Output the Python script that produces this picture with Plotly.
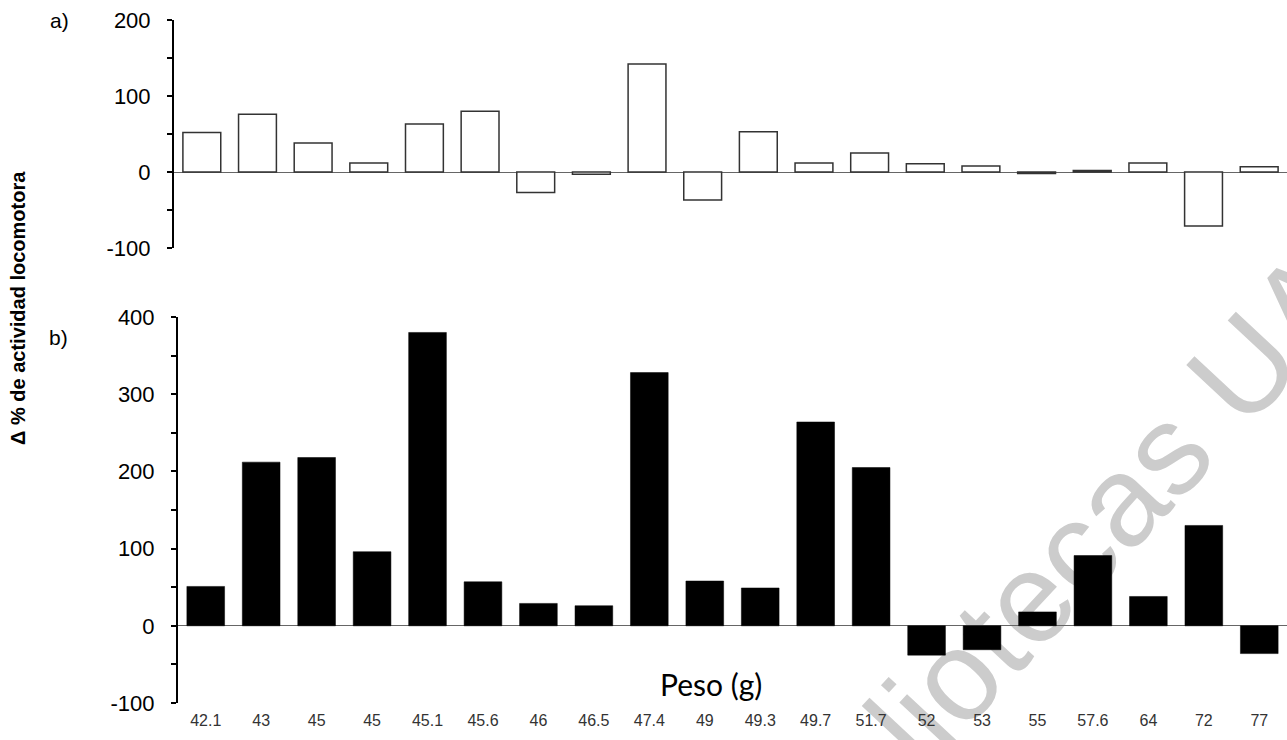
import plotly.graph_objects as go

# Data
peso_labels = ["42.1", "43", "45", "45", "45.1", "45.6", "46", "46.5", "47.4", "49",
               "49.3", "49.7", "51.7", "52", "53", "55", "57.6", "64", "72", "77"]
delta_a = [52, 76, 38, 12, 63, 80, -27, -3, 142, -37,
           53, 12, 25, 11, 8, -2, 2, 12, -71, 7]
delta_b = [51, 212, 218, 96, 380, 57, 29, 26, 328, 58,
           49, 264, 205, -38, -31, 18, 91, 38, 130, -36]
ticks_a = [-100, 0, 100, 200]
ticks_b = [-100, 0, 100, 200, 300, 400]

pos = list(range(len(peso_labels)))

W, H = 1287, 740
ML, MR, MT, MB = 174, 0, 20, 37
PW, PH = W - ML - MR, H - MT - MB


def px_x(x):
    return (x - ML) / PW


def px_y(y):
    return (H - MB - y) / PH


fig = go.Figure()
fig.add_trace(go.Bar(x=pos, y=delta_a, xaxis="x", yaxis="y",
                     marker=dict(color="white", line=dict(color="#333333", width=1.5)),
                     showlegend=False, hoverinfo="skip"))
fig.add_trace(go.Bar(x=pos, y=delta_b, xaxis="x2", yaxis="y2",
                     marker=dict(color="black", line=dict(color="black", width=0.5)),
                     showlegend=False, hoverinfo="skip"))

yfont = dict(family="Arial, Liberation Sans, sans-serif", size=22, color="black")
common_y = dict(
    showgrid=False, showline=True, linecolor="black", linewidth=2,
    ticks="outside", ticklen=5, tickwidth=2, tickcolor="black",
    tickmode="array", tickfont=yfont, ticklabelstandoff=12,
    minor=dict(dtick=50, ticks="outside", ticklen=5, tickwidth=2, tickcolor="black"),
    zeroline=True, zerolinecolor="#666666", zerolinewidth=1,
)

fig.update_layout(
    width=W, height=H,
    margin=dict(l=ML, r=MR, t=MT, b=MB),
    paper_bgcolor="white", plot_bgcolor="rgba(0,0,0,0)",
    bargap=0.32,
    xaxis=dict(domain=[0, 1], anchor="y", range=[-0.5, 19.5], showgrid=False,
               showline=False, zeroline=False, showticklabels=False, ticks=""),
    yaxis=dict(domain=[px_y(248), 1], anchor="x", range=[-100, 200],
               tickvals=ticks_a, ticktext=[str(v) for v in ticks_a], **common_y),
    xaxis2=dict(domain=[px_x(178), 1], anchor="y2", range=[-0.5, 19.5], showgrid=False,
                showline=False, zeroline=False, ticks="",
                tickmode="array", tickvals=pos, ticktext=peso_labels,
                tickfont=dict(family="Arial, Liberation Sans, sans-serif", size=16, color="#333333"),
                ticklabelstandoff=6),
    yaxis2=dict(domain=[0, px_y(317)], anchor="x2", range=[-100, 400],
                tickvals=ticks_b, ticktext=[str(v) for v in ticks_b], **common_y),
)

annots = [
    dict(text="a)", x=px_x(59), y=px_y(20), font=dict(family="Arial, Liberation Sans", size=21, color="black")),
    dict(text="b)", x=px_x(58), y=px_y(337), font=dict(family="Arial, Liberation Sans", size=21, color="black")),
    dict(text="<b>\u0394 % de actividad locomotora</b>", x=px_x(18), y=px_y(308), textangle=-90,
         font=dict(family="Arial, Liberation Sans", size=20, color="black")),
    dict(text="Peso (g)", x=px_x(711), y=px_y(684),
         font=dict(family="Lato, Open Sans, sans-serif", size=30, color="black")),
]
for a in annots:
    fig.add_annotation(xref="paper", yref="paper", showarrow=False,
                       xanchor="center", yanchor="middle", **a)

# Watermark text behind bars
cx, cy = 1040, 568
fig.add_shape(type="line", xref="paper", yref="paper", layer="below",
              x0=px_x(cx - 34), y0=px_y(cy + 37), x1=px_x(cx + 34), y1=px_y(cy - 37),
              line=dict(width=0, color="rgba(0,0,0,0)"),
              label=dict(text="Bibliotecas UA", textangle=-47, textposition="middle",
                         xanchor="center", yanchor="middle",
                         font=dict(family="Arial, Liberation Sans", size=128, color="#cccccc")))

fig.write_html("out.html", config={"displayModeBar": False},
               post_script="document.body.style.margin='0';document.body.style.overflow='hidden';")
